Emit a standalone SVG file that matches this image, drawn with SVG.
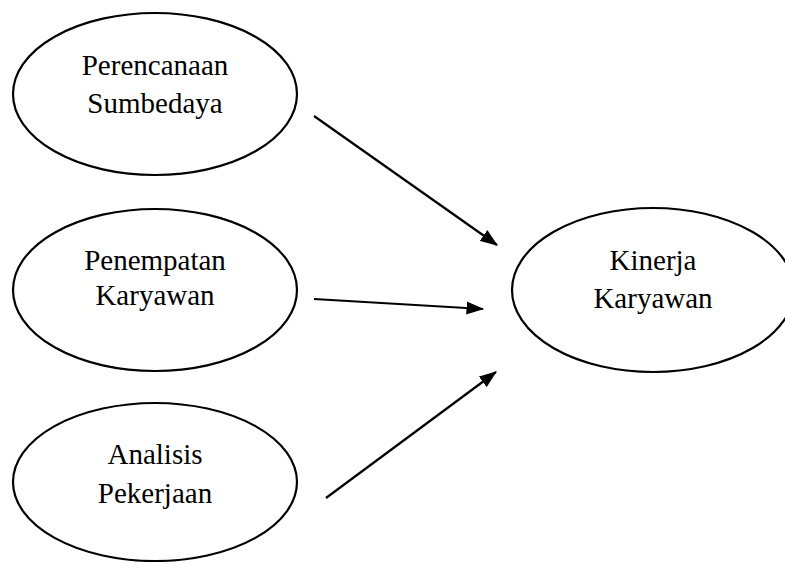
<svg xmlns="http://www.w3.org/2000/svg" width="785" height="562" viewBox="0 0 785 562">
<style>
.node ellipse{fill:#fff;stroke:#000;stroke-width:2.2}
.node text{font-family:"Liberation Serif","Times New Roman",serif;font-size:29px;fill:#000;text-anchor:middle}
.conn line{stroke:#000;stroke-width:2.2}
</style>
<defs>
<marker id="ah" markerWidth="8" markerHeight="6" refX="7.5" refY="3" orient="auto" markerUnits="strokeWidth">
<path d="M0,0 L8,3 L0,6 Z" fill="#000"/>
</marker>
</defs>
<rect width="785" height="562" fill="#fff"/>
<g id="n1" class="node">
<ellipse cx="155" cy="94" rx="142" ry="81"/>
<text x="155" y="75">Perencanaan</text>
<text x="155" y="113">Sumbedaya</text>
</g>
<g id="n2" class="node">
<ellipse cx="155" cy="290" rx="142" ry="81"/>
<text x="155" y="270">Penempatan</text>
<text x="155" y="305">Karyawan</text>
</g>
<g id="n3" class="node">
<ellipse cx="155" cy="482" rx="142" ry="79"/>
<text x="155" y="464">Analisis</text>
<text x="155" y="503">Pekerjaan</text>
</g>
<g id="n4" class="node">
<ellipse cx="653" cy="290" rx="141" ry="82"/>
<text x="653" y="270">Kinerja</text>
<text x="653" y="308">Karyawan</text>
</g>
<g id="connectors" class="conn">
<line x1="314" y1="116" x2="497" y2="245" marker-end="url(#ah)"/>
<line x1="314" y1="299" x2="483" y2="309" marker-end="url(#ah)"/>
<line x1="326" y1="498" x2="496" y2="372" marker-end="url(#ah)"/>
</g>
</svg>
